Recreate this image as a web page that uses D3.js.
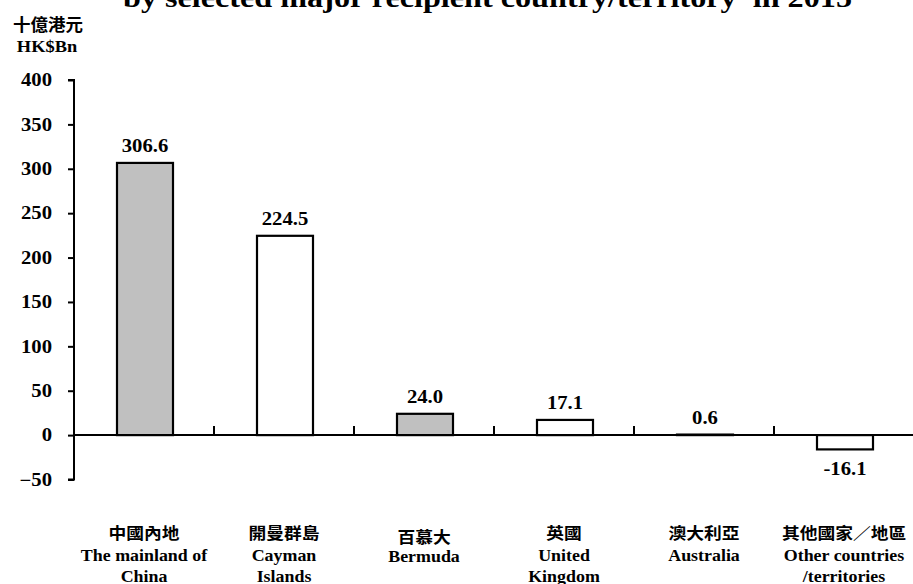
<!DOCTYPE html>
<html><head><meta charset="utf-8">
<script src="https://cdn.jsdelivr.net/npm/d3@7"></script>
<style>
html,body{margin:0;padding:0;background:#fff;}
svg{display:block;}
text{font-family:"Liberation Serif","Times New Roman",serif;font-weight:bold;fill:#000;}
.cjk{font-family:"Noto Sans CJK TC","Noto Sans CJK SC",sans-serif;font-weight:700;}
</style></head>
<body>
<script>
const categoriesZh = ["中國內地","開曼群島","百慕大","英國","澳大利亞","其他國家／地區"];
const categoriesEn = [["The mainland of","China"],["Cayman","Islands"],["Bermuda"],["United","Kingdom"],["Australia"],["Other countries","/territories"]];
const values = [306.6, 224.5, 24.0, 17.1, 0.6, -16.1];
const fills = ["#c0c0c0","#ffffff","#c0c0c0","#ffffff","#ffffff","#ffffff"];
const yTicks = [-50,0,50,100,150,200,250,300,350,400];
const titleText = "by selected major recipient country/territory  in 2015";

const W = 913, H = 584;
const SX = 1.15; // horizontal stretch of the source image's text
const svg = d3.select("body").append("svg").attr("width", W).attr("height", H);

const x = d3.scaleBand().domain(d3.range(values.length)).range([74, 914]).paddingInner(0.6).paddingOuter(0.3);
const xs = d3.scaleBand().domain(d3.range(values.length)).range([74, 914]);
const y = d3.scaleLinear().domain([-50, 400]).range([479.5, 80]);

function stretchedText(parent, px, py, str, size, anchor, sx, cls) {
  return parent.append("text").attr("class", cls || null)
    .attr("transform", `translate(${px},${py}) scale(${sx},1)`)
    .attr("text-anchor", anchor).style("font-size", size + "px")
    .style("white-space", "pre").text(str);
}

// title (cut off at top)
stretchedText(svg, 852, 6.5, titleText, 28, "end", SX);

// unit labels
stretchedText(svg, 48, 31, "十億港元", 17, "middle", 1.03, "cjk");
stretchedText(svg, 47, 52, "HK$Bn", 16, "middle", SX);

// y axis
const yAxis = d3.axisLeft(y).tickValues(yTicks).tickSize(6).tickPadding(15).tickFormat(d3.format("d"));
const gy = svg.append("g").attr("transform", "translate(74,0)").call(yAxis);
gy.select(".domain").attr("stroke", "#000").attr("stroke-width", 2).attr("d", `M-6,${y(400)}H0V${y(-50)}H-6`);
gy.selectAll(".tick line").attr("stroke", "#000").attr("stroke-width", 2);
gy.selectAll(".tick text").attr("x", 0).attr("transform", `translate(-22,0) scale(${SX},1)`)
  .style("font-size", "18px").style("font-family", "'Liberation Serif',serif").style("font-weight", "bold").attr("fill", "#000");

// bars
svg.selectAll("rect.bar").data(values).join("rect").attr("class", "bar")
  .attr("x", (d, i) => x(i) + 1).attr("width", x.bandwidth())
  .attr("y", d => y(Math.max(0, d))).attr("height", d => Math.abs(y(d) - y(0)))
  .attr("fill", (d, i) => fills[i]).attr("stroke", "#000").attr("stroke-width", 2.2);

// x axis line at zero
const xAxis = d3.axisBottom(xs).tickSize(0).tickFormat("");
const gx = svg.append("g").attr("transform", `translate(0,${y(0)})`).call(xAxis);
gx.select(".domain").attr("stroke", "#000").attr("stroke-width", 2).attr("d", `M74,0H913`);
// category separator ticks (upward)
svg.selectAll("line.sep").data(d3.range(1, values.length)).join("line").attr("class", "sep")
  .attr("x1", i => xs(i)).attr("x2", i => xs(i))
  .attr("y1", y(0)).attr("y2", y(0) - 9)
  .attr("stroke", "#000").attr("stroke-width", 2);

// value labels
values.forEach((d, i) => {
  stretchedText(svg, x(i) + 1 + x.bandwidth() / 2, d >= 0 ? y(d) - 11 : y(d) + 26,
    d.toFixed(1), 18, "middle", SX);
});

// category labels
const cx = i => xs(i) + xs.bandwidth() / 2;
categoriesZh.forEach((s, i) => {
  stretchedText(svg, cx(i), i === 2 ? 543 : 539, s, 16, "middle", 1.11, "cjk");
});
categoriesEn.forEach((lines, i) => {
  lines.forEach((ln, j) => {
    stretchedText(svg, cx(i), (i === 2 ? 562 : 561) + j * 21, ln, 16, "middle", 1.12);
  });
});
</script>
</body></html>
